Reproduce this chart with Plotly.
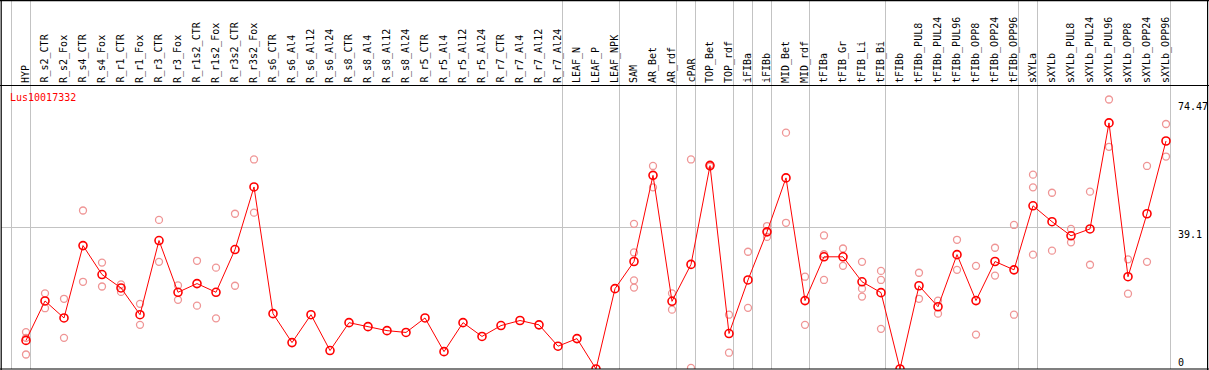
import plotly.graph_objects as go

categories = ["HYP", "R_s2_CTR", "R_s2_Fox", "R_s4_CTR", "R_s4_Fox", "R_r1_CTR", "R_r1_Fox",
              "R_r3_CTR", "R_r3_Fox", "R_r1s2_CTR", "R_r1s2_Fox", "R_r3s2_CTR", "R_r3s2_Fox",
              "R_s6_CTR", "R_s6_Al4", "R_s6_Al12", "R_s6_Al24", "R_s8_CTR", "R_s8_Al4",
              "R_s8_Al12", "R_s8_Al24", "R_r5_CTR", "R_r5_Al4", "R_r5_Al12", "R_r5_Al24",
              "R_r7_CTR", "R_r7_Al4", "R_r7_Al12", "R_r7_Al24", "LEAF_N", "LEAF_P", "LEAF_NPK",
              "SAM", "AR_Bet", "AR_rdf", "cPAR", "TOP_Bet", "TOP_rdf", "iFIBa", "iFIBb",
              "MID_Bet", "MID_rdf", "tFIBa", "tFIB_Gr", "tFIB_Li", "tFIB_Bi", "tFIBb",
              "tFIBb_PUL8", "tFIBb_PUL24", "tFIBb_PUL96", "tFIBb_OPP8", "tFIBb_OPP24",
              "tFIBb_OPP96", "sXYLa", "sXYLb", "sXYLb_PUL8", "sXYLb_PUL24", "sXYLb_PUL96",
              "sXYLb_OPP8", "sXYLb_OPP24", "sXYLb_OPP96"]

means = [7.9, 18.8, 14.1, 34.1, 26.1, 22.4, 15.0, 35.5, 21.2, 23.6, 21.2, 33.0, 50.3,
         15.3, 7.3, 15.0, 5.1, 12.8, 11.7, 10.6, 10.1, 14.1, 4.8, 12.8, 9.0,
         12.0, 13.4, 12.2, 6.3, 8.4, 0.0, 22.2,
         29.7, 53.5, 18.7, 28.9, 56.2, 9.8, 24.6, 37.9, 52.8, 18.9, 31.0, 31.0, 24.1, 21.1, 0.0,
         23.0, 17.2, 31.6, 18.9, 29.7, 27.4, 45.1, 40.7, 36.8, 38.7, 68.0, 25.5, 42.9, 63.0]

replicates = [
    [10.2, 8.6, 4.0], [20.9, 16.8], [19.4, 8.6], [43.8, 24.1], [29.4, 22.8], [23.4, 21.3],
    [18.0, 12.2], [41.2, 29.6], [23.1, 19.1], [29.9, 17.5], [28.0, 14.0], [42.9, 23.0],
    [57.9, 43.2],
    [], [], [], [], [], [], [], [], [], [], [], [], [], [], [], [], [], [], [],
    [40.1, 32.2, 24.5, 22.5], [56.1, 50.2], [20.9, 16.4], [57.9, 0.3], [56.5, 55.9],
    [15.0, 4.5], [32.4, 16.9], [39.5, 37.9, 36.5], [65.3, 40.4], [25.5, 12.2],
    [36.9, 31.7, 24.6], [33.3, 28.5], [29.6, 22.2, 20.0], [27.1, 24.6, 11.1], [],
    [26.6, 19.4], [18.9, 15.3], [35.7, 27.4], [28.5, 9.5], [33.5, 25.8], [39.8, 15.0],
    [53.7, 50.2, 31.6], [48.7, 32.7], [38.7, 35.0], [49.0, 28.8], [74.47, 61.4],
    [30.3, 20.8], [56.1, 29.6], [67.7, 58.7]]

gene = "Lus10017332"
tick_values = [0, 39.1, 74.47]
tick_labels = ["0", "39.1", "74.47"]
grid_values = [39.1]
group_ends = ["HYP", "R_r7_Al24", "LEAF_NPK", "AR_rdf", "cPAR", "TOP_rdf", "iFIBa", "iFIBb",
              "MID_rdf", "tFIB_Bi", "tFIBb_OPP96", "sXYLa", "sXYLb_OPP96"]

# ---- layout geometry (pixels) ----
W, H = 1209, 370
T, B = 86, 1
PH = H - T - B
X0, DX = 26.0, 19.0


def py(p):  # pixel y -> paper y
    return 1 - (p - T) / PH


def px(p):  # pixel x -> paper x
    return p / W


xs = list(range(len(categories)))
rep_x, rep_y = [], []
for i, reps in enumerate(replicates):
    for v in reps:
        rep_x.append(i)
        rep_y.append(v)

fig = go.Figure()
fig.add_trace(go.Scatter(x=rep_x, y=rep_y, mode="markers",
                         marker=dict(symbol="circle-open", size=7, color="#ef9595",
                                     line=dict(width=1.3, color="#ef9595")),
                         hoverinfo="skip", showlegend=False))
fig.add_trace(go.Scatter(x=xs, y=means, mode="lines+markers",
                         line=dict(color="#ff0000", width=1),
                         marker=dict(symbol="circle-open", size=8, color="#ff0000",
                                     line=dict(width=1.6, color="#ff0000")),
                         showlegend=False))

shapes = []
grid_col = "#c3c3c3"
off = 4.5 / DX
# group separators (including one before the first category)
sep_positions = [-1] + [categories.index(c) for c in group_ends]
for i in sep_positions:
    shapes.append(dict(type="line", xref="x", yref="paper", x0=i + off, x1=i + off,
                       y0=0, y1=py(0), line=dict(color=grid_col, width=1), layer="below"))
for v in grid_values:
    shapes.append(dict(type="line", xref="paper", yref="y", x0=px(1), x1=px(1170.5),
                       y0=v, y1=v, line=dict(color=grid_col, width=1), layer="below"))
# frame lines
black = "#000000"
shapes.append(dict(type="line", xref="paper", yref="paper", x0=0, x1=1, y0=py(85.5), y1=py(85.5),
                   line=dict(color=black, width=1.2)))
shapes.append(dict(type="line", xref="paper", yref="paper", x0=0, x1=1, y0=py(0.6), y1=py(0.6),
                   line=dict(color=black, width=1.2)))
shapes.append(dict(type="line", xref="paper", yref="paper", x0=0, x1=1, y0=py(369), y1=py(369),
                   line=dict(color=black, width=1.2)))
shapes.append(dict(type="line", xref="paper", yref="paper", x0=px(1.2), x1=px(1.2), y0=py(0), y1=py(370),
                   line=dict(color=black, width=1.2)))
shapes.append(dict(type="line", xref="paper", yref="paper", x0=px(1207.6), x1=px(1207.6), y0=py(0), y1=py(370),
                   line=dict(color=black, width=1.2)))

mono = "DejaVu Sans Mono"
annotations = []
for i, c in enumerate(categories):
    annotations.append(dict(x=i, xref="x", y=py(84), yref="paper", text=c, textangle=-90,
                            showarrow=False, xanchor="center", yanchor="bottom",
                            font=dict(family=mono, size=10, color="#000000"), borderpad=0))
annotations.append(dict(x=px(9), xref="paper", y=py(97.5), yref="paper", text=gene,
                        showarrow=False, xanchor="left", yanchor="middle",
                        font=dict(family=mono, size=10, color="#ff0000"), borderpad=0))
for v, t in zip(tick_values, tick_labels):
    annotations.append(dict(x=px(1177), xref="paper", y=v, yref="y", text=t,
                            showarrow=False, xanchor="left",
                            yanchor="bottom" if v == 0 else "top",
                            yshift=0 if v == 0 else -1,
                            font=dict(family=mono, size=10, color="#000000"), borderpad=0))

fig.update_layout(
    width=W, height=H, autosize=False,
    margin=dict(l=0, r=0, t=T, b=B, pad=0),
    paper_bgcolor="white", plot_bgcolor="white",
    xaxis=dict(range=[-X0 / DX, (W - X0) / DX], showgrid=False, zeroline=False,
               showticklabels=False, ticks="", showline=False, fixedrange=True),
    yaxis=dict(range=[0, 74.47 * 1.05], showgrid=False, zeroline=False,
               showticklabels=False, ticks="", showline=False, fixedrange=True),
    shapes=shapes, annotations=annotations, showlegend=False,
)

fig.write_html("out.html", config={"displayModeBar": False},
               post_script="document.body.style.margin='0px';document.body.style.overflow='hidden';")
